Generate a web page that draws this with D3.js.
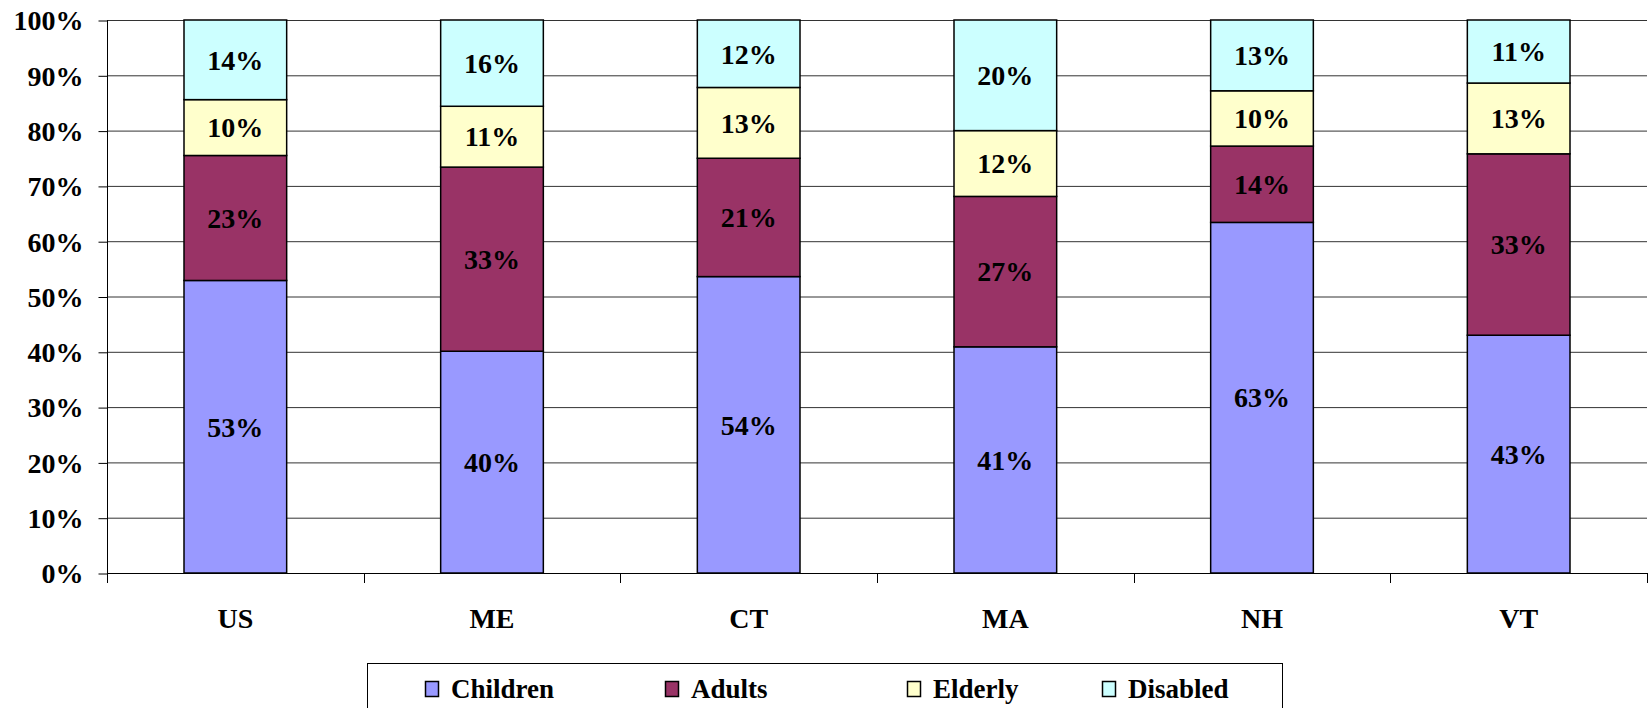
<!DOCTYPE html>
<html><head><meta charset="utf-8">
<script src="https://cdn.jsdelivr.net/npm/d3@7"></script>
<style>body{margin:0;background:#fff}svg{display:block}</style>
</head><body>
<svg id="c" width="1649" height="708"></svg>
<script>
const categories = ["US","ME","CT","MA","NH","VT"];
const seriesNames = ["Children","Adults","Elderly","Disabled"];
const children = [52.9,40.1,53.6,40.9,63.4,43.0];
const adults   = [22.6,33.3,21.4,27.2,13.8,32.8];
const elderly  = [10.1,11.0,12.8,11.9,10.0,12.8];
const disabled = [14.4,15.6,12.2,20.0,12.8,11.4];
const yTicks = [0,10,20,30,40,50,60,70,80,90,100];
const colors = ["#9999FF","#993366","#FFFFCC","#CCFFFF"];

const seriesVals = {Children:children, Adults:adults, Elderly:elderly, Disabled:disabled};
const rows = categories.map((c,i)=>({cat:c, idx:i, Children:children[i], Adults:adults[i], Elderly:elderly[i], Disabled:disabled[i]}));
const stack = d3.stack().keys(seriesNames)(rows);

const svg = d3.select("#c");
const font = "'Liberation Serif','Times New Roman',serif";
const m = {l:107, r:1647, t:20, b:573};
const x = d3.scaleBand().domain(categories).range([m.l,m.r]).paddingInner(0).paddingOuter(0);
const y = d3.scaleLinear().domain([0,100]).range([m.b,m.t]);
const barW = x.bandwidth()*0.4;

// gridlines
svg.append("g").selectAll("line").data(yTicks).join("line")
  .attr("x1",m.l).attr("x2",m.r).attr("y1",d=>y(d)+0.5).attr("y2",d=>y(d)+0.5)
  .attr("stroke","#333").attr("stroke-width",1);

// y axis
const ya = svg.append("g").attr("transform",`translate(${m.l+0.5},0)`)
  .call(d3.axisLeft(y).tickValues(yTicks).tickFormat(d=>d+"%").tickSize(9).tickPadding(15));
ya.select(".domain").attr("stroke","#000").attr("d",`M0,${m.t}V${m.b+10}`);
ya.selectAll(".tick line").attr("stroke","#000").attr("transform","translate(0,0.5)");
ya.selectAll("text").attr("font-family",font).attr("font-weight","bold").attr("font-size",28).attr("fill","#000").attr("dy","0.35em");

// x axis baseline & ticks at category boundaries
const xa = svg.append("g");
xa.append("line").attr("x1",m.l).attr("x2",m.r).attr("y1",m.b+0.5).attr("y2",m.b+0.5).attr("stroke","#000");
const bounds = categories.map(c=>x(c)).concat([x(categories[categories.length-1])+x.bandwidth()]);
xa.selectAll("line.tk").data(bounds.slice(1)).join("line").attr("class","tk")
  .attr("x1",d=>Math.round(d)+0.5).attr("x2",d=>Math.round(d)+0.5).attr("y1",m.b).attr("y2",m.b+10).attr("stroke","#000");
xa.selectAll("text").data(categories).join("text")
  .attr("x",d=>x(d)+x.bandwidth()/2).attr("y",618).attr("dy","0.35em")
  .attr("text-anchor","middle").attr("font-family",font).attr("font-weight","bold").attr("font-size",28).text(d=>d);

// bars
const g = svg.append("g");
stack.forEach((s,si)=>{
  g.append("g").selectAll("rect").data(s).join("rect")
    .attr("x",d=>x(d.data.cat)+(x.bandwidth()-barW)/2)
    .attr("width",barW)
    .attr("y",d=>y(d[1]))
    .attr("height",d=>y(d[0])-y(d[1]))
    .attr("fill",colors[si]).attr("stroke","#000").attr("stroke-width",1.5);
});
stack.forEach((s,si)=>{
  g.append("g").selectAll("text").data(s).join("text")
    .attr("x",d=>x(d.data.cat)+x.bandwidth()/2)
    .attr("y",d=>(y(d[0])+y(d[1]))/2).attr("dy","0.35em")
    .attr("text-anchor","middle").attr("font-family",font).attr("font-weight","bold").attr("font-size",28)
    .attr("fill","#000").text(d=>Math.round(seriesVals[s.key][d.data.idx])+"%");
});

// legend
const lg = svg.append("g");
lg.append("rect").attr("x",367.5).attr("y",663.5).attr("width",915).attr("height",60).attr("fill","#fff").attr("stroke","#000").attr("stroke-width",1);
const lx = [425,665,907,1102];
seriesNames.forEach((n,i)=>{
  lg.append("rect").attr("x",lx[i]+0.5).attr("y",681.5).attr("width",13).attr("height",15).attr("fill",colors[i]).attr("stroke","#000").attr("stroke-width",1.5);
  lg.append("text").attr("x",lx[i]+26).attr("y",689).attr("dy","0.35em")
    .attr("font-family",font).attr("font-weight","bold").attr("font-size",27).text(n);
});
</script>
</body></html>
